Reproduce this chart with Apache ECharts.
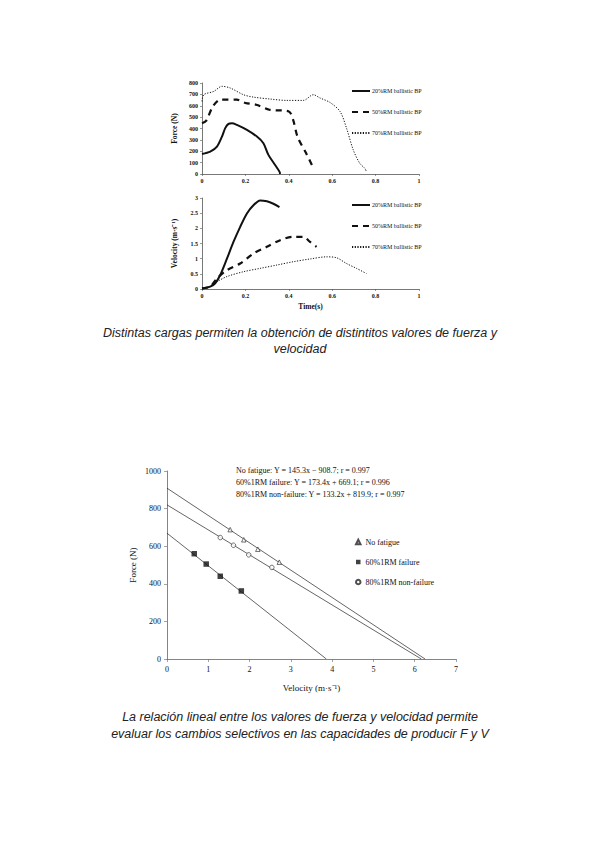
<!DOCTYPE html>
<html><head><meta charset="utf-8">
<script src="https://cdn.jsdelivr.net/npm/echarts@6/dist/echarts.min.js"></script>
<style>html,body{margin:0;padding:0;background:#fff}#c{width:600px;height:848px}</style>
</head><body><div id="c"></div>
<script>
// ---------- Data ----------
const legendNames = ['20%RM ballistic BP', '50%RM ballistic BP', '70%RM ballistic BP'];
// Force (N) vs time (s)
const force20 = [[0,176],[0.038,197],[0.069,241],[0.092,329],[0.107,403],[0.122,441],[0.138,447],[0.161,432],[0.207,388],[0.253,329],[0.283,271],[0.306,168],[0.337,79],[0.357,21],[0.36,0]];
const force50 = [[0,447],[0.02,470],[0.05,594],[0.085,653],[0.16,653],[0.2,624],[0.25,609],[0.31,565],[0.4,550],[0.42,476],[0.44,329],[0.48,182],[0.51,65]];
const force70 = [[0,638],[0.008,697],[0.054,726],[0.092,771],[0.13,756],[0.191,697],[0.237,676],[0.314,659],[0.39,647],[0.467,647],[0.513,697],[0.544,668],[0.59,629],[0.636,550],[0.666,403],[0.697,212],[0.727,94],[0.75,50],[0.758,21]];
// Velocity (m/s) vs time (s)
const vel20 = [[0,0.02],[0.038,0.08],[0.061,0.19],[0.084,0.46],[0.115,1.0],[0.145,1.55],[0.176,2.05],[0.207,2.49],[0.237,2.76],[0.268,2.92],[0.299,2.89],[0.329,2.81],[0.357,2.70]];
const vel50 = [[0,0.02],[0.038,0.08],[0.069,0.35],[0.115,0.62],[0.176,0.84],[0.237,1.17],[0.299,1.39],[0.36,1.61],[0.421,1.72],[0.467,1.72],[0.498,1.55],[0.528,1.39]];
const vel70 = [[0,0.02],[0.038,0.08],[0.069,0.24],[0.115,0.41],[0.191,0.57],[0.268,0.68],[0.345,0.79],[0.421,0.90],[0.498,0.99],[0.574,1.06],[0.62,1.03],[0.666,0.84],[0.712,0.68],[0.758,0.51]];
// Force-velocity
const fvNames = ['No fatigue', '60%1RM failure', '80%1RM non-failure'];
const ptsNoFatigue = [[1.53,688],[1.86,634],[2.20,584],[2.72,515]];
const pts60 = [[0.66,560],[0.95,505],[1.29,440],[1.80,362]];
const pts80 = [[1.29,646],[1.61,605],[1.98,554],[2.54,487]];
const lineNoFatigue = [[0,908.7],[6.25,0]];
const line60 = [[0,669.1],[3.86,0]];
const line80 = [[0,819.9],[6.16,0]];
const equations = ['No fatigue: Y = 145.3x − 908.7; r = 0.997', '60%1RM failure: Y = 173.4x + 669.1; r = 0.996', '80%1RM non-failure: Y = 133.2x + 819.9; r = 0.997'];
const caption1 = ['Distintas cargas permiten la obtención de distintitos valores de fuerza y', 'velocidad'];
const caption2 = ['La relación lineal entre los valores de fuerza y velocidad permite', 'evaluar los cambios selectivos en las capacidades de producir F y V'];

// ---------- Chart ----------
const chart = echarts.init(document.getElementById('c'), null, {renderer: 'svg'});
const serif = 'Liberation Serif';
const ink = '#111';
const styles = [
  {type: 'solid', width: 2},
  {type: [6, 5], width: 2.2},
  {type: [1.2, 1.5], width: 1}
];
function topAxisX(idx, name) {
  return {gridIndex: idx, type: 'value', min: 0, max: 1, interval: 0.2,
    name: name || '', nameLocation: 'middle', nameGap: 13,
    nameTextStyle: {fontFamily: serif, fontWeight: 'bold', fontSize: 7.5, color: ink},
    axisLine: {lineStyle: {color: '#555', width: 0.8}},
    axisTick: {length: 2, lineStyle: {color: '#555', width: 0.6}},
    axisLabel: {fontFamily: serif, fontWeight: 'bold', fontSize: 6, color: ink, margin: 4,
      formatter: v => String(Math.round(v * 10) / 10)},
    splitLine: {show: false}};
}
function topAxisY(idx, max, interval, name) {
  return {gridIndex: idx, type: 'value', min: 0, max: max, interval: interval,
    name: name, nameLocation: 'middle', nameGap: 24,
    nameTextStyle: {fontFamily: serif, fontWeight: 'bold', fontSize: 7.5, color: ink},
    axisLine: {show: true, lineStyle: {color: '#555', width: 0.8}},
    axisTick: {show: true, length: 2, lineStyle: {color: '#555', width: 0.6}},
    axisLabel: {fontFamily: serif, fontWeight: 'bold', fontSize: 6, color: ink, margin: 4},
    splitLine: {show: false}};
}
function lineSeries(name, data, st, xi) {
  return {name: name, type: 'line', xAxisIndex: xi, yAxisIndex: xi, data: data,
    showSymbol: false, symbol: 'none', smooth: 0.3,
    lineStyle: {color: ink, type: st.type, width: st.width}, itemStyle: {color: ink},
    silent: true, animation: false};
}
function topLegend(top) {
  return {orient: 'vertical', left: 346, top: top, itemWidth: 18, itemHeight: 6, itemGap: 15,
    data: legendNames, itemStyle: {opacity: 0}, textStyle: {fontFamily: serif, fontSize: 6, color: ink, padding: [0, 0, 0, -3]},
    selectedMode: false};
}
const botAxisStyle = {
  axisLine: {show: true, lineStyle: {color: '#666', width: 0.8}},
  axisTick: {show: true, length: 3, lineStyle: {color: '#666', width: 0.6}},
  axisLabel: {fontFamily: serif, fontSize: 8, color: ink, margin: 6, formatter: v => String(v)},
  splitLine: {show: false}
};
const scatterCommon = {type: 'scatter', xAxisIndex: 2, yAxisIndex: 2, symbolSize: 4.5, animation: false, silent: true, z: 5};
const regLine = d => ({type: 'line', xAxisIndex: 2, yAxisIndex: 2, data: d, symbol: 'none',
  lineStyle: {color: '#222', width: 0.7}, silent: true, animation: false, z: 3});

const graphics = [];
equations.forEach((t, i) => graphics.push({type: 'text', left: 236, top: 466 + i * 12.2,
  style: {text: t, fontFamily: serif, fontSize: 8, fill: ink}}));
caption1.forEach((t, i) => graphics.push({type: 'text', x: 300, y: 326 + i * 16,
  style: {text: t, fontFamily: 'Liberation Sans', fontStyle: 'italic', fontSize: 12.5, fill: '#222', textAlign: 'center'}}));
caption2.forEach((t, i) => graphics.push({type: 'text', x: 300, y: 710 + i * 17,
  style: {text: t, fontFamily: 'Liberation Sans', fontStyle: 'italic', fontSize: 12.5, fill: '#222', textAlign: 'center'}}));

chart.setOption({
  backgroundColor: '#fff',
  animation: false,
  grid: [
    {left: 202, top: 83, width: 217, height: 91},
    {left: 202, top: 198, width: 217, height: 91},
    {left: 167, top: 471, width: 289, height: 188}
  ],
  xAxis: [
    topAxisX(0, ''),
    topAxisX(1, 'Time(s)'),
    Object.assign({gridIndex: 2, type: 'value', min: 0, max: 7, interval: 1,
      name: 'Velocity (m·s⁻¹)', nameLocation: 'middle', nameGap: 24,
      nameTextStyle: {fontFamily: serif, fontSize: 9, color: ink}}, botAxisStyle)
  ],
  yAxis: [
    topAxisY(0, 800, 100, 'Force (N)'),
    topAxisY(1, 3, 0.5, 'Velocity (m·s⁻¹)'),
    Object.assign({gridIndex: 2, type: 'value', min: 0, max: 1000, interval: 200,
      name: 'Force (N)', nameLocation: 'middle', nameGap: 30,
      nameTextStyle: {fontFamily: serif, fontSize: 9, color: ink}}, botAxisStyle)
  ],
  legend: [
    topLegend(83),
    topLegend(197),
    {orient: 'vertical', left: 350, top: 533, itemWidth: 4.5, itemHeight: 4.5, itemGap: 12, itemTextGap: 4,
      data: fvNames, selectedMode: false,
      textStyle: {fontFamily: serif, fontSize: 8, color: ink, padding: [0, 0, 0, 0]}}
  ],
  series: [
    lineSeries(legendNames[0], force20, styles[0], 0),
    lineSeries(legendNames[1], force50, styles[1], 0),
    lineSeries(legendNames[2], force70, styles[2], 0),
    lineSeries(legendNames[0], vel20, styles[0], 1),
    lineSeries(legendNames[1], vel50, styles[1], 1),
    lineSeries(legendNames[2], vel70, styles[2], 1),
    regLine(lineNoFatigue), regLine(line60), regLine(line80),
    Object.assign({name: fvNames[0], data: ptsNoFatigue, symbol: 'triangle',
      itemStyle: {color: '#fff', borderColor: '#222', borderWidth: 0.8}}, scatterCommon),
    Object.assign({name: fvNames[1], data: pts60, symbol: 'rect',
      itemStyle: {color: '#111', borderColor: '#111', borderWidth: 0}}, scatterCommon, {symbolSize: 5.5}),
    Object.assign({name: fvNames[2], data: pts80, symbol: 'circle',
      itemStyle: {color: '#fff', borderColor: '#222', borderWidth: 0.8}}, scatterCommon)
  ],
  graphic: graphics
});
</script></body></html>
